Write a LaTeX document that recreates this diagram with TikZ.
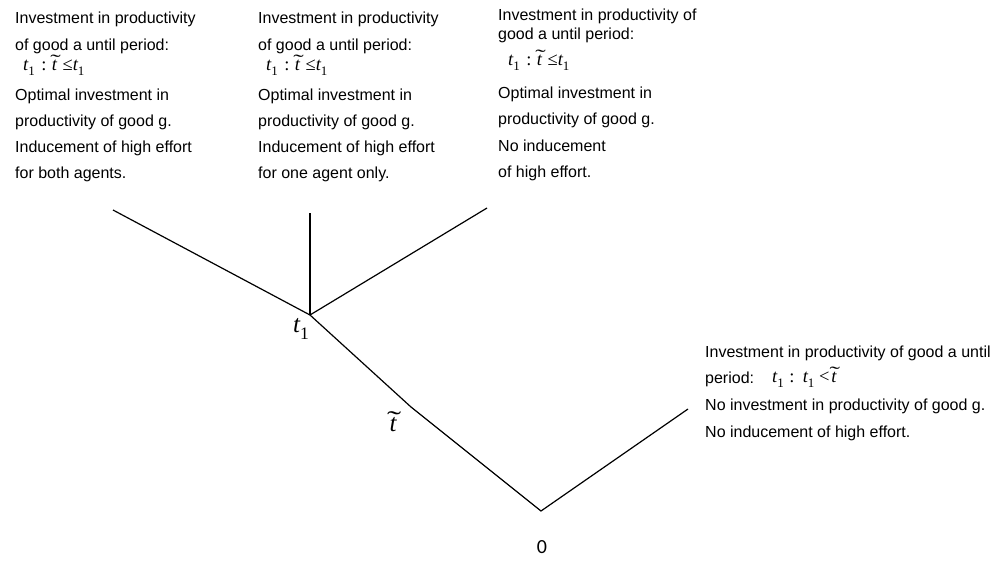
\documentclass[tikz,border=0pt]{standalone}
\usepackage{fontspec}
\setmainfont{Liberation Sans}
\newfontfamily\zerofont{Carlito}
\newfontfamily\tms{Liberation Serif}
\newcommand\mtone{{\tms\itshape t}\raisebox{-0.3em}{\tms\scalebox{0.7}{1}}}
\newcommand\mtilde{{\tms\itshape\makebox[0pt][l]{\makebox[0.38em][c]{\upshape\raisebox{0.12em}{\scalebox{1.7}[1]{\char"02DC}}}}t}}
\newcommand\mrel[1]{{\tms #1}}
\begin{document}
\begin{tikzpicture}[x=1pt,y=-1pt,
  txt/.style={anchor=base west,inner sep=0pt,font=\fontsize{16}{18}\selectfont},
  mth/.style={anchor=base west,inner sep=0pt,font=\fontsize{18.5}{20}\selectfont},
  lbl/.style={inner sep=0pt,font=\fontsize{25}{28}\selectfont},
  branch/.style={line width=1.2pt,line join=miter}]
\useasboundingbox (0,0) rectangle (1002,560);
% tree points
\coordinate (root) at (541,511);
\coordinate (R) at (688,409);
\coordinate (tt) at (411,407);
\coordinate (t1) at (310,315);
\coordinate (L) at (113,210);
\coordinate (U) at (310,213);
\coordinate (RU) at (487,208);
\draw[branch] (R) -- (root) -- (tt) -- (t1) -- (L);
\draw[branch] (t1) -- (U);
\draw[branch] (t1) -- (RU);
% point labels
\node[lbl] (lt1) at (301,329) {\mtone};
\node[lbl] (ltt) at (393,422) {\mtilde};
\node[inner sep=0pt,font=\zerofont\fontsize{20}{22}\selectfont] (l0) at (542,547) {0};
% block 1
\node[txt] (a1) at (15,23) {Investment in productivity};
\node[txt] (a2) at (15,50) {of good a until period:};
\node[mth] (a3) at (23,70) {\mtone\hspace{0.35em}\mrel{:}\hspace{0.3em}\mtilde\hspace{0.3em}\mrel{≤}\mtone};
\node[txt] (a4) at (15,100) {Optimal investment in};
\node[txt] (a5) at (15,126) {productivity of good g.};
\node[txt] (a6) at (15,152) {Inducement of high effort};
\node[txt] (a7) at (15,178) {for both agents.};
% block 2
\node[txt] (b1) at (258,23) {Investment in productivity};
\node[txt] (b2) at (258,50) {of good a until period:};
\node[mth] (b3) at (266,70) {\mtone\hspace{0.35em}\mrel{:}\hspace{0.3em}\mtilde\hspace{0.3em}\mrel{≤}\mtone};
\node[txt] (b4) at (258,100) {Optimal investment in};
\node[txt] (b5) at (258,126) {productivity of good g.};
\node[txt] (b6) at (258,152) {Inducement of high effort};
\node[txt] (b7) at (258,178) {for one agent only.};
% block 3
\node[txt] (c1) at (498,20) {Investment in productivity of};
\node[txt] (c2) at (498,39) {good a until period:};
\node[mth] (c3) at (508,65) {\mtone\hspace{0.35em}\mrel{:}\hspace{0.3em}\mtilde\hspace{0.3em}\mrel{≤}\mtone};
\node[txt] (c4) at (498,98) {Optimal investment in};
\node[txt] (c5) at (498,124) {productivity of good g.};
\node[txt] (c6) at (498,151) {No inducement};
\node[txt] (c7) at (498,177) {of high effort.};
% right block
\node[txt] (d1) at (705,357) {Investment in productivity of good a until};
\node[txt] (d2) at (705,383) {period:};
\node[mth] (d3) at (772,382) {\mtone\hspace{0.3em}\mrel{:}\hspace{0.45em}\mtone\hspace{0.25em}\mrel{<}\hspace{0.1em}\mtilde};
\node[txt] (d4) at (705,410) {No investment in productivity of good g.};
\node[txt] (d5) at (705,437) {No inducement of high effort.};
\end{tikzpicture}
\end{document}
